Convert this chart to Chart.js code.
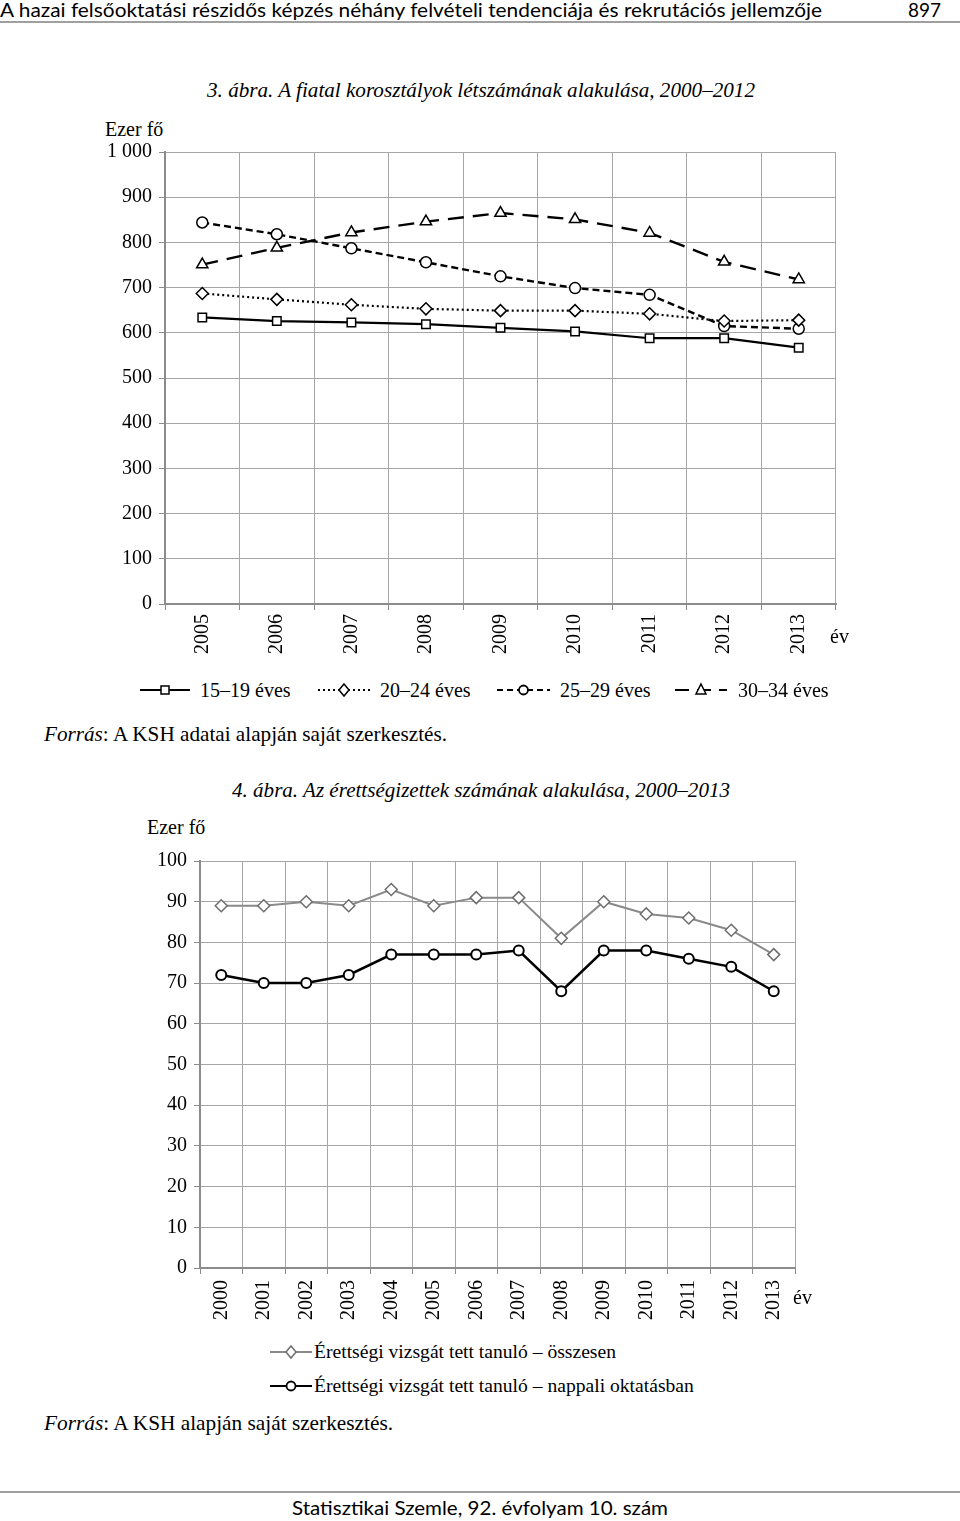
<!DOCTYPE html>
<html>
<head>
<meta charset="utf-8">
<script src="https://cdn.jsdelivr.net/npm/chart.js@4/dist/chart.umd.min.js"></script>
<style>
  body { margin: 0; background: #fff; }
  #page { position: relative; width: 960px; height: 1521px; overflow: hidden; font-family: "Liberation Serif", serif; color: #000; }
  .t { position: absolute; white-space: nowrap; line-height: 1; }
  .round { font-family: Lato, "Open Sans", sans-serif; }
  .rule { position: absolute; left: 0; width: 960px; height: 2px; background: #a0a0a0; }
  canvas { position: absolute; }
  svg { position: absolute; overflow: visible; }
</style>
</head>
<body>
<div id="page">
  <div class="t round" id="head" style="left:0; top:0; font-size:19px;">A hazai felsőoktatási részidős képzés néhány felvételi tendenciája és rekrutációs jellemzője</div>
  <div class="t round" style="left:908px; top:0; font-size:19px;">897</div>
  <div class="rule" style="top:21px;"></div>

  <div class="t" id="title1" style="left:207px; top:80px; font-size:20px; font-style:italic;">3. ábra. A fiatal korosztályok létszámának alakulása, 2000–2012</div>
  <div class="t" style="left:105px; top:119px; font-size:20px;">Ezer fő</div>
  <canvas id="chart1" width="960" height="530" style="left:0; top:130px;"></canvas>
  <div class="t" style="left:830px; top:626px; font-size:20px;">év</div>
  <div id="legend1"></div>
  <div class="t" id="src1" style="left:44px; top:724px; font-size:21px;"><i>Forrás</i>: A KSH adatai alapján saját szerkesztés.</div>

  <div class="t" id="title2" style="left:232px; top:780px; font-size:20px; font-style:italic;">4. ábra. Az érettségizettek számának alakulása, 2000–2013</div>
  <div class="t" style="left:147px; top:817px; font-size:20px;">Ezer fő</div>
  <canvas id="chart2" width="960" height="490" style="left:0; top:840px;"></canvas>
  <div class="t" style="left:793px; top:1287px; font-size:20px;">év</div>
  <div id="legend2"></div>
  <div class="t" id="src2" style="left:44px; top:1413px; font-size:21px;"><i>Forrás</i>: A KSH alapján saját szerkesztés.</div>

  <div class="rule" style="top:1491px;"></div>
  <div class="t round" id="foot" style="left:292px; top:1497px; font-size:20px;">Statisztikai Szemle, 92. évfolyam 10. szám</div>
</div>
<script>
// 3. ábra data (ezer fő)
const years1 = ['2005', '2006', '2007', '2008', '2009', '2010', '2011', '2012', '2013'];
const age1519 = [634, 626, 623, 619, 611, 603, 588, 588, 567];
const age2024 = [687, 674, 662, 653, 649, 649, 642, 626, 628];
const age2529 = [844, 818, 787, 756, 725, 699, 684, 615, 609];
const age3034 = [751, 788, 822, 846, 865, 851, 821, 757, 718];
const yTicks1 = ['0', '100', '200', '300', '400', '500', '600', '700', '800', '900', '1 000'];

// 4. ábra data (ezer fő)
const years2 = ['2000', '2001', '2002', '2003', '2004', '2005', '2006', '2007', '2008', '2009', '2010', '2011', '2012', '2013'];
const osszesen = [89, 89, 90, 89, 93, 89, 91, 91, 81, 90, 87, 86, 83, 77];
const nappali = [72, 70, 70, 72, 77, 77, 77, 78, 68, 78, 78, 76, 74, 68];
const yTicks2 = ['0', '10', '20', '30', '40', '50', '60', '70', '80', '90', '100'];

// squeeze a text to a target width
function fitWidth(id, w) {
    const el = document.getElementById(id);
    const r = w / el.getBoundingClientRect().width;
    el.style.transformOrigin = '0 0';
    el.style.transform = 'scaleX(' + r + ')';
}
fitWidth('head', 822);
fitWidth('foot', 376);
fitWidth('title1', 548);
fitWidth('title2', 498);
fitWidth('src1', 403);
fitWidth('src2', 349);

const tickFont = { family: 'Liberation Serif', size: 20 };
const gridColor = '#a6a6a6';
const axisColor = '#8c8c8c';

function makeScales(labels, max, step, tickLabels, yWidth, xHeight, pad) {
    return {
        x: {
            type: 'category',
            labels: labels,
            offset: true,
            grid: { offset: true, color: gridColor, lineWidth: 1, tickLength: 6, tickColor: axisColor },
            border: { color: axisColor, width: 2 },
            ticks: { color: '#000', font: tickFont, minRotation: 90, maxRotation: 90, autoSkip: false, padding: pad },
            afterFit: (s) => { s.height = xHeight; }
        },
        y: {
            min: 0,
            max: max,
            grid: { color: gridColor, lineWidth: 1, tickLength: 6, tickColor: axisColor },
            border: { color: axisColor, width: 2 },
            ticks: {
                stepSize: step,
                color: '#000',
                font: tickFont,
                padding: 7,
                callback: (v) => tickLabels[Math.round(v / step)]
            },
            afterFit: (s) => { s.width = yWidth; }
        }
    };
}

// first chart
new Chart(document.getElementById('chart1').getContext('2d'), {
    type: 'line',
    data: {
        labels: years1,
        datasets: [
            { label: '15–19 éves', data: age1519, borderColor: '#000', borderWidth: 2.2,
              pointStyle: 'rect', pointRadius: 6, pointBorderWidth: 1.5, pointBackgroundColor: '#fff', pointBorderColor: '#000' },
            { label: '20–24 éves', data: age2024, borderColor: '#000', borderWidth: 2.2, borderDash: [2, 3],
              pointStyle: 'rectRot', pointRadius: 6, pointBorderWidth: 1.5, pointBackgroundColor: '#fff', pointBorderColor: '#000' },
            { label: '25–29 éves', data: age2529, borderColor: '#000', borderWidth: 2.4, borderDash: [7, 4],
              pointStyle: 'circle', pointRadius: 5.5, pointBorderWidth: 1.5, pointBackgroundColor: '#fff', pointBorderColor: '#000' },
            { label: '30–34 éves', data: age3034, borderColor: '#000', borderWidth: 2.4, borderDash: [16, 9],
              pointStyle: 'triangle', pointRadius: 6.5, pointBorderWidth: 1.5, pointBackgroundColor: '#fff', pointBorderColor: '#000' }
        ]
    },
    options: {
        responsive: false,
        animation: false,
        layout: { padding: { top: 22, right: 124, left: 0, bottom: 0 } },
        plugins: { legend: { display: false }, tooltip: { enabled: false } },
        scales: makeScales(years1, 1000, 100, yTicks1, 165, 56, 4)
    }
});

// second chart
new Chart(document.getElementById('chart2').getContext('2d'), {
    type: 'line',
    data: {
        labels: years2,
        datasets: [
            { label: 'Érettségi vizsgát tett tanuló – összesen', data: osszesen, borderColor: '#8a8a8a', borderWidth: 2,
              pointStyle: 'rectRot', pointRadius: 6, pointBorderWidth: 1.5, pointBackgroundColor: '#fff', pointBorderColor: '#6e6e6e' },
            { label: 'Érettségi vizsgát tett tanuló – nappali oktatásban', data: nappali, borderColor: '#000', borderWidth: 2.5,
              pointStyle: 'circle', pointRadius: 5, pointBorderWidth: 2, pointBackgroundColor: '#fff', pointBorderColor: '#000' }
        ]
    },
    options: {
        responsive: false,
        animation: false,
        layout: { padding: { top: 21, right: 165, left: 0, bottom: 0 } },
        plugins: { legend: { display: false }, tooltip: { enabled: false } },
        scales: makeScales(years2, 100, 10, yTicks2, 200, 62, 6)
    }
});

// legend samples drawn as small svg pieces
function marker(kind, cx, cy, stroke) {
    if (kind === 'rect') return `<rect x="${cx - 4}" y="${cy - 4}" width="8" height="8" fill="#fff" stroke="${stroke}" stroke-width="1.5"/>`;
    if (kind === 'diamond') return `<polygon points="${cx},${cy - 6} ${cx + 5},${cy} ${cx},${cy + 6} ${cx - 5},${cy}" fill="#fff" stroke="${stroke}" stroke-width="1.5"/>`;
    if (kind === 'circle') return `<circle cx="${cx}" cy="${cy}" r="4.5" fill="#fff" stroke="${stroke}" stroke-width="1.8"/>`;
    return `<polygon points="${cx},${cy - 6} ${cx + 5},${cy + 4} ${cx - 5},${cy + 4}" fill="#fff" stroke="${stroke}" stroke-width="1.5"/>`;
}
function legendItem(parent, x, y, w, dash, kind, color, mColor, text, textX, size) {
    const svg = `<svg width="${w}" height="16" style="left:${x}px; top:${y - 8}px;">
      <line x1="0" y1="8" x2="${w}" y2="8" stroke="${color}" stroke-width="2.2" stroke-dasharray="${dash}"/>
      ${marker(kind, w / 2, 8, mColor)}</svg>`;
    parent.insertAdjacentHTML('beforeend', svg +
        `<div class="t" style="left:${textX}px; top:${y - 10}px; font-size:${size}px;">${text}</div>`);
}
const lg1 = document.getElementById('legend1');
legendItem(lg1, 140, 690, 50, 'none', 'rect', '#000', '#000', '15–19 éves', 200, 20);
legendItem(lg1, 318, 690, 52, '2,3', 'diamond', '#000', '#000', '20–24 éves', 380, 20);
legendItem(lg1, 497, 690, 53, '6,4', 'circle', '#000', '#000', '25–29 éves', 560, 20);
legendItem(lg1, 675, 690, 52, '14,8', 'triangle', '#000', '#000', '30–34 éves', 738, 20);

const lg2 = document.getElementById('legend2');
legendItem(lg2, 270, 1352, 42, 'none', 'diamond', '#8a8a8a', '#6e6e6e', 'Érettségi vizsgát tett tanuló – összesen', 314, 19.6);
legendItem(lg2, 270, 1386, 42, 'none', 'circle', '#000', '#000', 'Érettségi vizsgát tett tanuló – nappali oktatásban', 314, 19.6);
</script>
</body>
</html>
